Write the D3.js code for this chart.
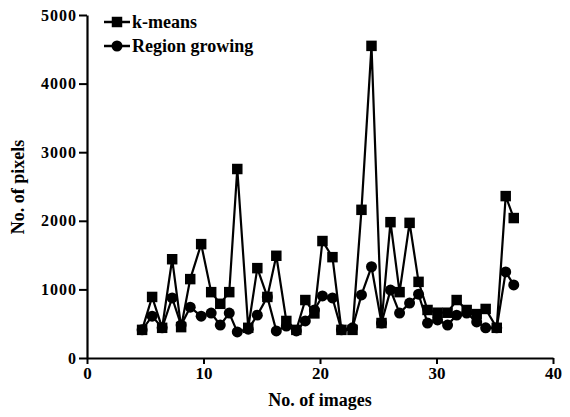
<!DOCTYPE html>
<html>
<head>
<meta charset="utf-8">
<script src="https://cdn.jsdelivr.net/npm/d3@7"></script>
<style>
  html, body { margin: 0; padding: 0; background: #fff; }
  svg { display: block; }
  text { font-family: "Liberation Serif", "Times New Roman", serif; fill: #000; }
</style>
</head>
<body>
<svg id="chart" width="570" height="417"></svg>
<script>
// Data
const imageIndex = [4.73, 5.59, 6.45, 7.31, 8.08, 8.86, 9.80, 10.66, 11.44, 12.21,
  12.90, 13.84, 14.62, 15.48, 16.25, 17.11, 17.97, 18.74, 19.52, 20.21,
  21.07, 21.84, 22.79, 23.56, 24.42, 25.28, 26.05, 26.83, 27.69, 28.46,
  29.23, 30.09, 30.95, 31.73, 32.59, 33.45, 34.22, 35.17, 35.94, 36.63];
const kmeans = [410, 890, 440, 1440, 450, 1150, 1660, 960, 790, 960,
  2755, 440, 1310, 890, 1490, 540, 410, 845, 650, 1705,
  1470, 410, 410, 2160, 4550, 510, 1980, 960, 1970, 1110,
  700, 660, 660, 845, 700, 640, 715, 440, 2360, 2040];
const regionGrowing = [410, 610, 440, 875, 480, 740, 610, 655, 480, 655,
  380, 420, 625, 890, 395, 465, 395, 540, 700, 905,
  875, 410, 440, 920, 1330, 510, 990, 655, 800, 930,
  510, 555, 480, 625, 655, 525, 440, 440, 1255, 1065];
const xTicks = [0, 10, 20, 30, 40];
const yTicks = [0, 1000, 2000, 3000, 4000, 5000];
const seriesNames = ["k-means", "Region growing"];

const FONT = "'Liberation Serif', 'Times New Roman', serif";
const svg = d3.select("#chart");
const x = d3.scaleLinear().domain([0, 40]).range([87, 553]);
const y = d3.scaleLinear().domain([0, 5000]).range([358, 15]);

// Axes
const xAxis = svg.append("g").attr("transform", `translate(0,${y(0)})`)
  .call(d3.axisBottom(x).tickValues(xTicks).tickFormat(d3.format("d"))
    .tickSize(6).tickPadding(3).tickSizeOuter(0));
const yAxis = svg.append("g").attr("transform", `translate(${x(0)},0)`)
  .call(d3.axisLeft(y).tickValues(yTicks).tickFormat(d3.format("d"))
    .tickSize(8).tickPadding(2).tickSizeOuter(0));
[xAxis, yAxis].forEach(g => {
  g.attr("font-family", FONT);
  g.select(".domain").attr("stroke", "#000").attr("stroke-width", 2.2);
  g.selectAll(".tick line").attr("stroke", "#000").attr("stroke-width", 2);
  g.selectAll(".tick text").style("font-weight", "bold")
    .style("font-family", FONT).attr("fill", "#000");
});
xAxis.selectAll(".tick text").style("font-size", "17px");
yAxis.selectAll(".tick text").style("font-size", "16px").style("letter-spacing", "1px");

// Axis titles
svg.append("text").attr("x", 320).attr("y", 406).attr("text-anchor", "middle")
  .style("font-size", "18px").style("font-weight", "bold").text("No. of images");
svg.append("text").attr("transform", "translate(24,187) rotate(-90)").attr("text-anchor", "middle")
  .style("font-size", "18px").style("font-weight", "bold").text("No. of  pixels");

const line = d3.line().x(d => x(d[0])).y(d => y(d[1]));
const kData = imageIndex.map((v, i) => [v, kmeans[i]]);
const rData = imageIndex.map((v, i) => [v, regionGrowing[i]]);

function drawSeries(data, shape) {
  svg.append("path").datum(data).attr("d", line)
    .attr("fill", "none").attr("stroke", "#000").attr("stroke-width", 2.2);
  const sym = d3.symbol().type(shape === "square" ? d3.symbolSquare : d3.symbolCircle)
    .size(shape === "square" ? 110 : 95);
  svg.append("g").selectAll("path").data(data).join("path")
    .attr("transform", d => `translate(${x(d[0])},${y(d[1])})`)
    .attr("d", sym).attr("fill", "#000");
}
drawSeries(rData, "circle");
drawSeries(kData, "square");

// Legend
const legend = svg.append("g");
seriesNames.forEach((name, i) => {
  const ly = 22 + i * 24;
  legend.append("line").attr("x1", 104).attr("x2", 130).attr("y1", ly).attr("y2", ly)
    .attr("stroke", "#000").attr("stroke-width", 2.5);
  legend.append("path").attr("transform", `translate(117,${ly})`)
    .attr("d", d3.symbol().type(i === 0 ? d3.symbolSquare : d3.symbolCircle).size(i === 0 ? 110 : 95)())
    .attr("fill", "#000");
  legend.append("text").attr("x", 132).attr("y", ly + 6)
    .style("font-size", "18px").style("font-weight", "bold").text(name);
});
</script>
</body>
</html>
